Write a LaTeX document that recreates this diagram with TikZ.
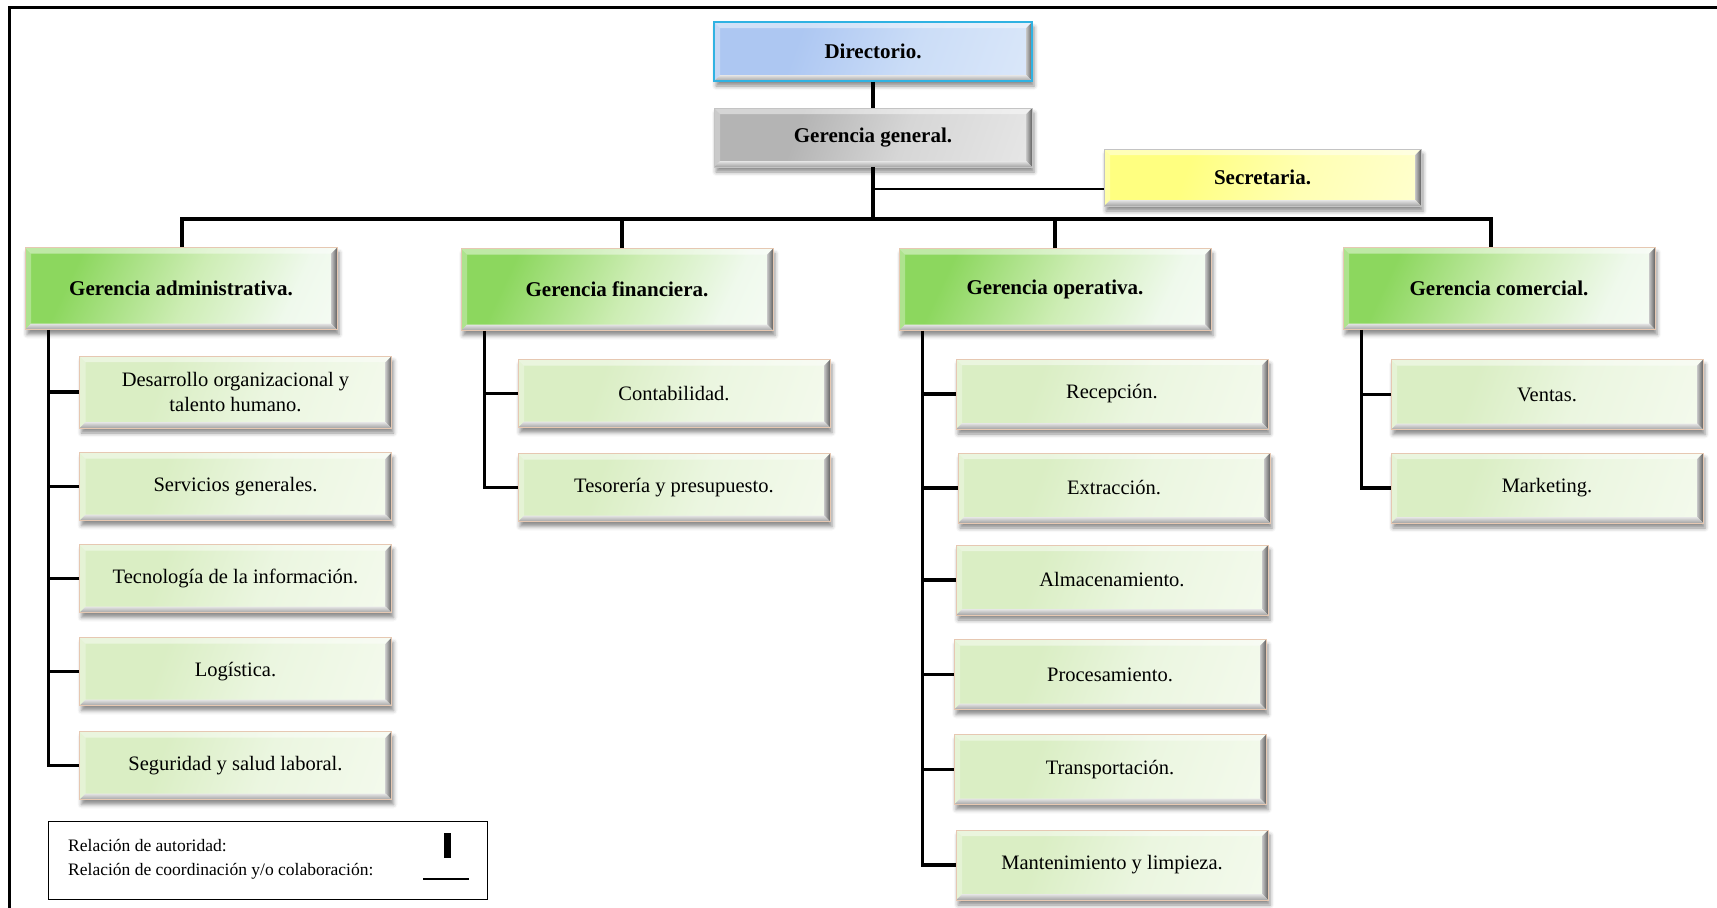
\documentclass[tikz,border=0pt]{standalone}
\usepackage{fontspec}
\setmainfont{Liberation Serif}
\usetikzlibrary{shadows.blur}

% fill colours
\definecolor{hg1}{HTML}{8CD75E}
\definecolor{hg2}{HTML}{CDEDB4}
\definecolor{hg3}{HTML}{EFF9EC}
\definecolor{sg1}{HTML}{DAEEC4}
\definecolor{sg2}{HTML}{EBF6E0}
\definecolor{sg3}{HTML}{FAFDF6}
\definecolor{bl1}{HTML}{ADC7F2}
\definecolor{bl2}{HTML}{CBDDF7}
\definecolor{bl3}{HTML}{E6EFFC}
\definecolor{gr1}{HTML}{B4B4B4}
\definecolor{gr2}{HTML}{D6D6D6}
\definecolor{gr3}{HTML}{F2F2F2}
\definecolor{ye1}{HTML}{FFFF80}
\definecolor{ye2}{HTML}{FFFFB4}
\definecolor{ye3}{HTML}{FFFFE2}
% border colours
\definecolor{edgetan}{HTML}{E6C8B2}
\definecolor{edgecyan}{HTML}{30B2E2}
\definecolor{edgegray}{HTML}{C4C4C4}

\pgfdeclarehorizontalshading{headgreen}{100bp}{color(0bp)=(hg1); color(28bp)=(hg1); color(52bp)=(hg2); color(72bp)=(hg3); color(100bp)=(white)}
\pgfdeclarehorizontalshading{subgreen}{100bp}{color(0bp)=(sg1); color(35bp)=(sg1); color(56bp)=(sg2); color(100bp)=(sg3)}
\pgfdeclarehorizontalshading{bluebar}{100bp}{color(0bp)=(bl1); color(35bp)=(bl1); color(58bp)=(bl2); color(100bp)=(bl3)}
\pgfdeclarehorizontalshading{graybar}{100bp}{color(0bp)=(gr1); color(35bp)=(gr1); color(56bp)=(gr2); color(100bp)=(gr3)}
\pgfdeclarehorizontalshading{yellowbar}{100bp}{color(0bp)=(ye1); color(35bp)=(ye1); color(58bp)=(ye2); color(100bp)=(ye3)}

\tikzset{
  bevel/.style={path picture={
    \coordinate (bNE) at (path picture bounding box.north east);
    \coordinate (bSE) at (path picture bounding box.south east);
    \coordinate (bSW) at (path picture bounding box.south west);
    \coordinate (bNW) at (path picture bounding box.north west);
    \shade[left color=black!22, right color=black!62]
      (bNE) -- (bSE) -- ([xshift=-6pt,yshift=6pt]bSE) -- ([xshift=-6pt,yshift=-6pt]bNE) -- cycle;
    \shade[top color=black!10, bottom color=black!36]
      (bSW) -- (bSE) -- ([xshift=-6pt,yshift=6pt]bSE) -- ([xshift=6pt,yshift=6pt]bSW) -- cycle;
    \fill[white, opacity=.45]
      (bNW) -- (bNE) -- ([xshift=-6pt,yshift=-6pt]bNE) -- ([xshift=6pt,yshift=-6pt]bNW) -- cycle;
    \fill[white, opacity=.3]
      (bNW) -- (bSW) -- ([xshift=6pt,yshift=6pt]bSW) -- ([xshift=6pt,yshift=-6pt]bNW) -- cycle;
  }},
  box/.style={rectangle, inner sep=0pt, align=center, minimum width=312pt,
    font=\fontsize{20.5}{25}\selectfont, draw=edgetan, line width=0.8pt,
    blur shadow={shadow xshift=2pt, shadow yshift=-5pt, shadow blur radius=4pt, shadow opacity=45},
    bevel},
  headbox/.style={box, minimum height=82pt, shade, shading=headgreen, shading angle=-25,
    font=\bfseries\fontsize{21}{25}\selectfont},
  subbox/.style={box, minimum height=68pt, shade, shading=subgreen, shading angle=-20},
  topbox/.style={box, minimum width=318pt, minimum height=59pt,
    font=\bfseries\fontsize{21}{25}\selectfont},
  auth/.style={line width=3.5pt},
  colab/.style={line width=2pt},
  legtext/.style={anchor=west, inner sep=0pt, font=\fontsize{17.5}{21}\selectfont},
}

\begin{document}
\begin{tikzpicture}[x=1pt, y=-1pt]
\useasboundingbox (0,0) rectangle (1717,908);

% outer frame
\draw[line width=3pt] (9,908) -- (9,7) -- (1717,7);

% top of the chart
\node[topbox, shade, shading=bluebar, shading angle=-20, draw=edgecyan, line width=1.8pt] (dir) at (873,51.5) {Directorio.};
\node[topbox, shade, shading=graybar, shading angle=-20, draw=edgegray] (gg) at (873,137.5) {Gerencia general.};
\node[topbox, minimum width=317pt, minimum height=57pt, shade, shading=yellowbar, shading angle=-20, draw=edgegray] (sec) at (1262.5,177.5) {Secretaria.};

% managements
\node[headbox] (adm) at (181,288.5) {Gerencia administrativa.};
\node[headbox] (fin) at (617,289.5) {Gerencia financiera.};
\node[headbox] (ope) at (1055,289.5) {Gerencia operativa.};
\node[headbox] (com) at (1499,288.5) {Gerencia comercial.};

% administrative units
\node[subbox, minimum height=72pt] (a1) at (235.5,392) {Desarrollo organizacional y\\talento humano.};
\node[subbox] (a2) at (235.5,486.5) {Servicios generales.};
\node[subbox] (a3) at (235.5,578.5) {Tecnología de la información.};
\node[subbox] (a4) at (235.5,671.5) {Logística.};
\node[subbox] (a5) at (235.5,765.5) {Seguridad y salud laboral.};

% financial units
\node[subbox] (f1) at (674,393.5) {Contabilidad.};
\node[subbox] (f2) at (674,487.5) {Tesorería y presupuesto.};

% operative units
\node[subbox, minimum height=70pt] (o1) at (1112,394) {Recepción.};
\node[subbox, minimum height=70pt] (o2) at (1114,488) {Extracción.};
\node[subbox, minimum height=70pt] (o3) at (1112,580) {Almacenamiento.};
\node[subbox, minimum height=70pt] (o4) at (1110,674.5) {Procesamiento.};
\node[subbox, minimum height=70pt] (o5) at (1110,769.5) {Transportación.};
\node[subbox, minimum height=70pt] (o6) at (1112,865) {Mantenimiento y limpieza.};

% commercial units
\node[subbox, minimum height=70pt] (c1) at (1547,394.5) {Ventas.};
\node[subbox, minimum height=70pt] (c2) at (1547,488) {Marketing.};

% authority lines
\coordinate (bus) at (0,219);
\draw[auth] (dir) -- (gg);
\draw[auth] (gg.south) -- (gg.south |- bus);
\draw[auth] ([xshift=1pt]adm.north) -- ([xshift=1pt]adm.north |- bus)
  -- ([xshift=-8pt]com.north |- bus) -- ([xshift=-8pt]com.north);
\draw[auth] ([xshift=5pt]fin.north) -- ([xshift=5pt]fin.north |- bus);
\draw[auth] (ope.north) -- (ope.north |- bus);

\coordinate (sa) at ([xshift=24pt]adm.south west);
\draw[auth] (sa) |- (a5.west);
\foreach \n in {a1,a2,a3,a4} \draw[auth] (\n.west) -- (\n.west -| sa);

\coordinate (sf) at ([xshift=24pt]fin.south west);
\draw[auth] (sf) |- (f2.west);
\draw[auth] (f1.west) -- (f1.west -| sf);

\coordinate (so) at ([xshift=24pt]ope.south west);
\draw[auth] (so) |- (o6.west);
\foreach \n in {o1,o2,o3,o4,o5} \draw[auth] (\n.west) -- (\n.west -| so);

\coordinate (sc) at ([xshift=19pt]com.south west);
\draw[auth] (sc) |- (c2.west);
\draw[auth] (c1.west) -- (c1.west -| sc);

% coordination line
\draw[colab] ([yshift=-11pt]sec.west) -- ([yshift=-11pt]sec.west -| gg.south);

% legend
\node[draw, line width=1pt, minimum width=439pt, minimum height=78pt, inner sep=0pt] (leg) at (267.5,860) {};
\node[legtext] (l1) at (68,846) {Relación de autoridad:};
\node[legtext] (l2) at (68,871) {Relación de coordinación y/o colaboración:};
\draw[line width=7pt] (447,833) -- (447,858);
\draw[line width=1.3pt] (423,879) -- (469,879);
\end{tikzpicture}
\end{document}
